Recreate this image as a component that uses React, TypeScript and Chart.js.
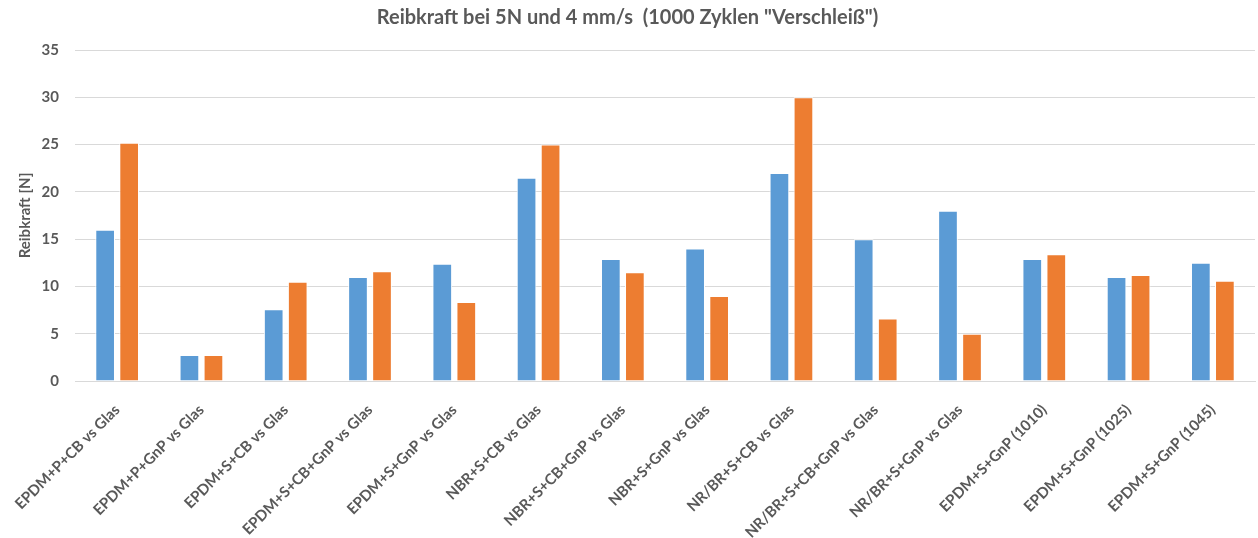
import React, { useEffect, useRef } from "react";
import { Chart, registerables } from "chart.js";

Chart.register(...registerables);

const categories = [
  "EPDM+P+CB vs Glas",
  "EPDM+P+GnP vs Glas",
  "EPDM+S+CB vs Glas",
  "EPDM+S+CB+GnP vs Glas",
  "EPDM+S+GnP vs Glas",
  "NBR+S+CB vs Glas",
  "NBR+S+CB+GnP vs Glas",
  "NBR+S+GnP vs Glas",
  "NR/BR+S+CB vs Glas",
  "NR/BR+S+CB+GnP vs Glas",
  "NR/BR+S+GnP vs Glas",
  "EPDM+S+GnP (1010)",
  "EPDM+S+GnP (1025)",
  "EPDM+S+GnP (1045)",
];

const seriesBlue = [16.0, 2.75, 7.6, 11.0, 12.4, 21.5, 12.9, 14.0, 22.0, 15.0, 18.0, 12.9, 11.0, 12.5];
const seriesOrange = [25.2, 2.75, 10.5, 11.6, 8.35, 25.0, 11.5, 9.0, 30.0, 6.6, 5.0, 13.4, 11.2, 10.6];

const yTicks = [0, 5, 10, 15, 20, 25, 30, 35];

const FONT = "Lato, 'Open Sans', sans-serif";
const GREY = "#595959";

export default function App() {
  const ref = useRef<HTMLCanvasElement | null>(null);

  useEffect(() => {
    if (!ref.current) return;
    const chart = new Chart(ref.current, {
      type: "bar",
      data: {
        labels: categories,
        datasets: [
          {
            label: "Serie 1",
            data: seriesBlue,
            backgroundColor: "#5B9BD5",
            borderColor: "#ffffff",
            borderWidth: 1,
            categoryPercentage: 0.57,
            barPercentage: 0.82,
          },
          {
            label: "Serie 2",
            data: seriesOrange,
            backgroundColor: "#ED7D31",
            borderColor: "#ffffff",
            borderWidth: 1,
            categoryPercentage: 0.57,
            barPercentage: 0.82,
          },
        ],
      },
      options: {
        animation: false,
        responsive: true,
        maintainAspectRatio: false,
        layout: { padding: { left: 0, right: 3, top: 0, bottom: 0 } },
        plugins: {
          legend: { display: false },
          tooltip: { enabled: false },
          title: {
            display: true,
            text: 'Reibkraft bei 5N und 4 mm/s  (1000 Zyklen "Verschleiß")',
            color: GREY,
            font: { family: FONT, size: 20, weight: "bold" },
            padding: { top: 6, bottom: 20 },
          },
        },
        scales: {
          x: {
            grid: { display: false, drawTicks: false },
            border: { display: true, color: "#d9d9d9", width: 1 },
            ticks: {
              color: GREY,
              font: { family: FONT, size: 15, weight: "bold" },
              minRotation: 45,
              maxRotation: 45,
              autoSkip: false,
              padding: 20,
            },
            afterFit: (scale: any) => {
              scale.height = 157;
              scale.paddingLeft = 0;
              scale.paddingRight = 0;
            },
          },
          y: {
            min: 0,
            max: 35,
            afterBuildTicks: (scale: any) => {
              scale.ticks = yTicks.map((v) => ({ value: v }));
            },
            grid: { color: "#d9d9d9", drawTicks: false },
            border: { display: false },
            ticks: {
              color: GREY,
              font: { family: FONT, size: 15, weight: "bold" },
              padding: 16,
            },
            title: {
              display: true,
              text: "Reibkraft [N]",
              color: GREY,
              font: { family: FONT, size: 15, weight: "bold" },
              padding: { top: 16, bottom: 0 },
            },
            afterFit: (scale: any) => {
              scale.width = 75;
            },
          },
        },
      },
    });
    return () => chart.destroy();
  }, []);

  return (
    <div style={{ position: "absolute", left: 0, top: 0, width: 1258, height: 538, background: "#fff" }}>
      <canvas ref={ref} />
    </div>
  );
}
